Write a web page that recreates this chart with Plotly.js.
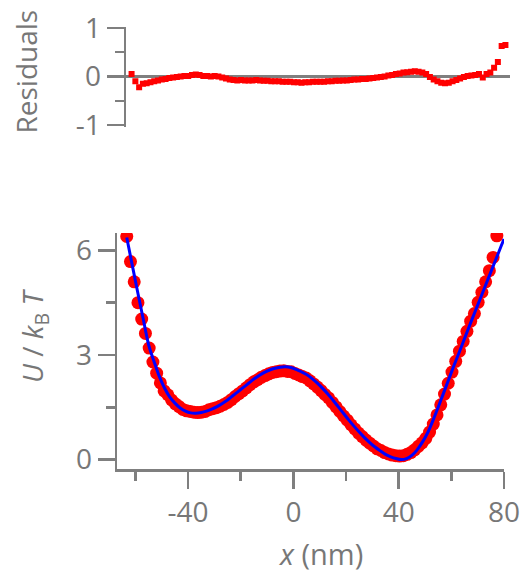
<!DOCTYPE html>
<html>
<head>
<meta charset="utf-8">
<script src="https://cdn.plot.ly/plotly-3.0.1.min.js"></script>
<style>html,body{margin:0;padding:0;background:#fff;}#chart{width:522px;height:573px;}</style>
</head>
<body>
<div id="chart"></div>
<script>
// position x (nm) of each measured point
const xData = [-63.30,-61.88,-60.46,-59.04,-57.62,-56.20,-54.78,-53.36,-51.94,-50.52,
  -49.10,-47.68,-46.26,-44.84,-43.42,-42.00,-40.58,-39.16,-37.74,-36.32,
  -34.90,-33.48,-32.06,-30.64,-29.22,-27.80,-26.38,-24.96,-23.54,-22.12,
  -20.70,-19.28,-17.86,-16.44,-15.02,-13.60,-12.18,-10.76,-9.34,-7.92,
  -6.50,-5.08,-3.66,-2.24,-0.82,0.60,2.02,3.44,4.86,6.28,
  7.70,9.12,10.54,11.96,13.38,14.80,16.22,17.64,19.06,20.48,
  21.90,23.32,24.74,26.16,27.58,29.00,30.42,31.84,33.26,34.68,
  36.10,37.52,38.94,40.36,41.78,43.20,44.62,46.04,47.46,48.88,
  50.30,51.72,53.14,54.56,55.98,57.40,58.82,60.24,61.66,63.08,
  64.50,65.92,67.34,68.76,70.18,71.60,73.02,74.44,75.86,77.28];

// measured potential U / kBT
const uData = [6.40,5.68,5.10,4.50,4.03,3.62,3.20,2.80,2.48,2.20,
  1.97,1.86,1.71,1.60,1.52,1.44,1.40,1.38,1.36,1.35,
  1.36,1.38,1.43,1.46,1.49,1.53,1.58,1.64,1.72,1.81,
  1.89,1.97,2.06,2.15,2.23,2.29,2.36,2.41,2.46,2.50,
  2.52,2.54,2.55,2.53,2.52,2.47,2.43,2.38,2.34,2.26,
  2.17,2.08,1.98,1.87,1.77,1.64,1.51,1.38,1.25,1.13,
  1.00,0.88,0.76,0.66,0.56,0.47,0.39,0.31,0.26,0.20,
  0.16,0.13,0.11,0.10,0.11,0.15,0.20,0.28,0.38,0.48,
  0.61,0.79,1.02,1.28,1.57,1.88,2.19,2.51,2.82,3.11,
  3.39,3.68,3.97,4.19,4.51,4.80,5.10,5.42,5.80,6.42];

// residuals (data - fit)
const resid = [0.05,-0.10,-0.22,-0.15,-0.14,-0.12,-0.10,-0.08,-0.06,-0.05,
  -0.03,-0.02,-0.01,0.00,0.01,0.01,0.03,0.04,0.03,0.01,
  0.01,0.00,0.01,0.00,-0.02,-0.04,-0.06,-0.07,-0.08,-0.07,
  -0.08,-0.08,-0.08,-0.07,-0.08,-0.09,-0.09,-0.10,-0.10,-0.10,
  -0.11,-0.11,-0.11,-0.12,-0.12,-0.13,-0.12,-0.12,-0.11,-0.11,
  -0.11,-0.11,-0.10,-0.10,-0.09,-0.09,-0.08,-0.08,-0.07,-0.06,
  -0.06,-0.05,-0.05,-0.04,-0.03,-0.02,-0.01,0.00,0.02,0.03,
  0.05,0.06,0.08,0.09,0.10,0.11,0.10,0.08,0.05,-0.01,
  -0.06,-0.10,-0.13,-0.14,-0.13,-0.10,-0.07,-0.04,-0.01,0.01,
  0.02,0.03,0.05,-0.02,0.05,0.08,0.18,0.30,0.63,0.65];

// fitted curve
const xFit = [-63.3,-61,-59,-57,-55,-53,-51,-49,-47,-45,-43,-41,-39,-37,-35,-33,-31,-29,-27,-25,
  -23,-21,-19,-17,-15,-13,-11,-9,-7,-5,-3,-1,1,3,5,7,9,11,13,15,
  17,19,21,23,25,27,29,31,33,35,37,39,41,43,45,47,49,51,53,55,
  57,59,61,63,65,67,69,71,73,75,77,79,80];
const uFit = [6.37,5.50,4.75,4.02,3.30,2.83,2.40,2.06,1.80,1.62,1.48,1.39,1.34,1.33,1.35,1.39,1.45,1.52,1.61,1.71,
  1.83,1.95,2.07,2.19,2.31,2.41,2.50,2.57,2.62,2.65,2.66,2.64,2.59,2.52,2.44,2.33,2.20,2.05,1.89,1.71,
  1.52,1.33,1.14,0.96,0.79,0.63,0.49,0.36,0.25,0.15,0.08,0.03,0.00,0.03,0.12,0.28,0.50,0.77,1.12,1.50,
  1.90,2.30,2.70,3.08,3.47,3.86,4.24,4.62,5.00,5.38,5.76,6.14,6.33];

// tick labels
const xTickVals = [-40, 0, 40, 80];
const xTickText = ['-40', '0', '40', '80'];
const yTickVals = [0, 3, 6];
const yTickText = ['0', '3', '6'];
const rTickVals = [-1, 0, 1];
const rTickText = ['-1', '0', '1'];

const W = 522, H = 573;
const gray = '#7f7f7f', txt = '#777777';
const FONT = 'Open Sans, DejaVu Sans, sans-serif';
const px = v => v / W, py = v => 1 - v / H;

const traces = [
  {x: xData, y: uData, type: 'scatter', mode: 'markers', xaxis: 'x', yaxis: 'y',
   marker: {color: '#ff0000', size: 13, line: {width: 0}}, hoverinfo: 'skip'},
  {x: xFit, y: uFit, type: 'scatter', mode: 'lines', xaxis: 'x', yaxis: 'y',
   line: {color: '#0000ff', width: 3, shape: 'spline', smoothing: 1}, hoverinfo: 'skip'},
  {x: xData, y: resid, type: 'scatter', mode: 'markers', xaxis: 'x2', yaxis: 'y2',
   marker: {color: '#ff0000', size: 6, symbol: 'square', line: {width: 0}}, hoverinfo: 'skip'}
];

const tickFont = {family: FONT, size: 28, color: txt};
const minorCommon = {ticks: 'outside', ticklen: 9, tickwidth: 2.5, tickcolor: gray, showgrid: false};
const layout = {
  width: W, height: H,
  margin: {l: 0, r: 0, t: 0, b: 0},
  paper_bgcolor: '#ffffff', plot_bgcolor: 'rgba(0,0,0,0)',
  showlegend: false,
  xaxis: {domain: [px(117), px(504)], range: [-67, 80], anchor: 'y',
    tickmode: 'array', tickvals: xTickVals, ticktext: xTickText,
    ticks: 'outside', ticklen: 17, tickwidth: 2.5, tickcolor: gray,
    minor: Object.assign({tickmode: 'array', tickvals: [-60, -20, 20, 60]}, minorCommon),
    showline: true, linecolor: gray, linewidth: 2.5, showgrid: false, zeroline: false,
    tickfont: tickFont, fixedrange: true},
  yaxis: {domain: [py(469), py(233)], range: [-0.27, 6.5], anchor: 'x',
    tickmode: 'array', tickvals: yTickVals, ticktext: yTickText,
    ticks: 'outside', ticklen: 17, tickwidth: 2.5, tickcolor: gray,
    minor: Object.assign({tickmode: 'array', tickvals: [1.5, 4.5]}, minorCommon),
    showline: true, linecolor: gray, linewidth: 2.5, showgrid: false, zeroline: false,
    tickfont: tickFont, fixedrange: true},
  xaxis2: {domain: [px(126), px(510)], range: [-65.4, 79], anchor: 'y2',
    showline: false, showticklabels: false, ticks: '', showgrid: false, zeroline: false, fixedrange: true},
  yaxis2: {domain: [py(126.5), py(26.5)], range: [-1.03, 1.03], anchor: 'x2',
    tickmode: 'array', tickvals: rTickVals, ticktext: rTickText,
    ticks: 'outside', ticklen: 17, tickwidth: 2.5, tickcolor: gray,
    minor: Object.assign({tickmode: 'array', tickvals: [-0.5, 0.5]}, minorCommon),
    showline: true, linecolor: gray, linewidth: 2.5, showgrid: false,
    zeroline: true, zerolinecolor: gray, zerolinewidth: 2.5,
    tickfont: tickFont, fixedrange: true},
  annotations: [
    {text: 'Residuals', xref: 'paper', yref: 'paper', x: px(25), y: py(71.5), textangle: -90,
     showarrow: false, xanchor: 'center', yanchor: 'middle', font: {family: FONT, size: 28, color: txt}},
    {text: '<i>U</i> / <i>k</i><sub>B</sub> <i>T</i>', xref: 'paper', yref: 'paper', x: px(34), y: py(336), textangle: -90,
     showarrow: false, xanchor: 'center', yanchor: 'middle', font: {family: FONT, size: 28, color: txt}},
    {text: '<i>x</i> (nm)', xref: 'paper', yref: 'paper', x: px(320), y: py(553),
     showarrow: false, xanchor: 'center', yanchor: 'middle', font: {family: FONT, size: 29, color: txt}}
  ]
};

Plotly.newPlot('chart', traces, layout, {staticPlot: true, displayModeBar: false});
</script>
</body>
</html>
